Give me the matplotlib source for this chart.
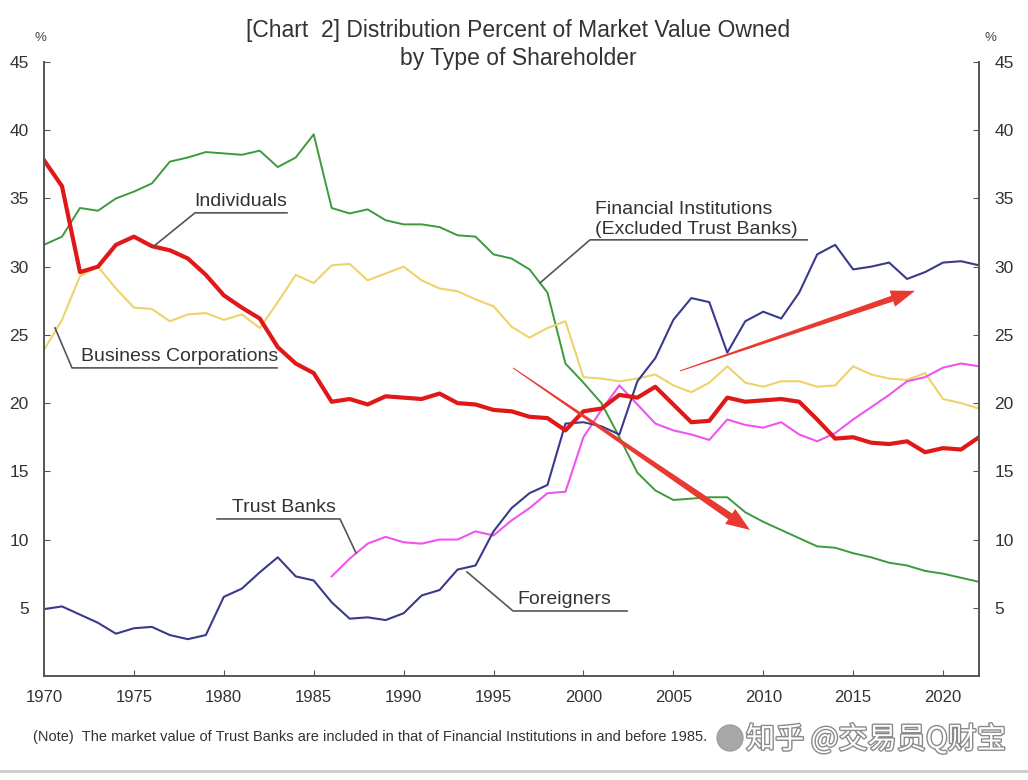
import numpy as np
import matplotlib.pyplot as plt
import matplotlib.patheffects as pe
from matplotlib.patches import Polygon, Ellipse

years = np.arange(1970, 2023)

financial = [31.6, 32.2, 34.3, 34.1, 35.0, 35.5, 36.1, 37.7, 38.0, 38.4,
             38.3, 38.2, 38.5, 37.3, 38.0, 39.7, 34.3, 33.9, 34.2, 33.4,
             33.1, 33.1, 32.9, 32.3, 32.2, 30.9, 30.6, 29.8, 28.1, 22.9,
             21.5, 20.0, 17.5, 14.9, 13.6, 12.9, 13.0, 13.1, 13.1, 12.0,
             11.3, 10.7, 10.1, 9.5, 9.4, 9.0, 8.7, 8.3, 8.1, 7.7,
             7.5, 7.2, 6.9]
individuals = [37.8, 35.9, 29.6, 30.0, 31.6, 32.2, 31.5, 31.2, 30.6, 29.4,
               27.9, 27.0, 26.2, 24.1, 22.9, 22.2, 20.1, 20.3, 19.9, 20.5,
               20.4, 20.3, 20.7, 20.0, 19.9, 19.5, 19.4, 19.0, 18.9, 18.0,
               19.4, 19.6, 20.6, 20.4, 21.2, 19.9, 18.6, 18.7, 20.4, 20.1,
               20.2, 20.3, 20.1, 18.8, 17.4, 17.5, 17.1, 17.0, 17.2, 16.4,
               16.7, 16.6, 17.5]
business = [23.9, 26.1, 29.3, 30.0, 28.4, 27.0, 26.9, 26.0, 26.5, 26.6,
            26.1, 26.5, 25.5, 27.4, 29.4, 28.8, 30.1, 30.2, 29.0, 29.5,
            30.0, 29.0, 28.4, 28.2, 27.6, 27.1, 25.6, 24.8, 25.5, 26.0,
            21.9, 21.8, 21.6, 21.8, 22.1, 21.3, 20.8, 21.5, 22.7, 21.5,
            21.2, 21.6, 21.6, 21.2, 21.3, 22.7, 22.1, 21.8, 21.7, 22.2,
            20.3, 20.0, 19.6]
foreigners = [4.9, 5.1, 4.5, 3.9, 3.1, 3.5, 3.6, 3.0, 2.7, 3.0,
              5.8, 6.4, 7.6, 8.7, 7.3, 7.0, 5.4, 4.2, 4.3, 4.1,
              4.6, 5.9, 6.3, 7.8, 8.1, 10.6, 12.3, 13.4, 14.0, 18.5,
              18.6, 18.3, 17.7, 21.6, 23.3, 26.1, 27.7, 27.4, 23.7, 26.0,
              26.7, 26.2, 28.1, 30.9, 31.6, 29.8, 30.0, 30.3, 29.1, 29.6,
              30.3, 30.4, 30.1]
trust_years = np.arange(1986, 2023)
trust = [7.3, 8.6, 9.7, 10.2, 9.8, 9.7, 10.0, 10.0, 10.6, 10.3,
         11.4, 12.3, 13.4, 13.5, 17.5, 19.5, 21.3, 19.9, 18.5, 18.0,
         17.7, 17.3, 18.8, 18.4, 18.2, 18.6, 17.7, 17.2, 17.8, 18.8,
         19.7, 20.6, 21.6, 21.9, 22.6, 22.9, 22.7]

yticks = [5, 10, 15, 20, 25, 30, 35, 40, 45]
xticks = [1970, 1975, 1980, 1985, 1990, 1995, 2000, 2005, 2010, 2015, 2020]

plt.rcParams['font.family'] = ['Liberation Sans', 'DejaVu Sans']

fig = plt.figure(figsize=(10.28, 7.8), dpi=100)
ax = fig.add_axes([44 / 1028, 104 / 780, 935 / 1028, 614 / 780])

ax.plot(years, financial, color='#3c9a3c', lw=1.4)
ax.plot(years, business, color='#ecd46a', lw=1.5)
ax.plot(trust_years, trust, color='#ee55ee', lw=1.5)
ax.plot(years, foreigners, color='#3a3a8c', lw=1.5)
ax.plot(years, individuals, color='#e01818', lw=3.0)

ax.set_xlim(1970, 2022)
ax.set_ylim(0, 45)
ax.set_xticks(xticks)
ax.set_yticks(yticks)
ax.tick_params(direction='in', length=4, color='#555555', labelsize=12.5,
               labelcolor='#333333', right=True, labelright=True)
ax.tick_params(axis='y', pad=11)
ax.tick_params(axis='x', pad=10, labelsize=12)
for s in ['left', 'right', 'bottom']:
    ax.spines[s].set_color('#555555')
    ax.spines[s].set_linewidth(1.4)
ax.spines['top'].set_visible(False)

fig.text(518 / 1028, 1 - 30 / 780, '[Chart  2] Distribution Percent of Market Value Owned',
         ha='center', va='center', fontsize=16.5, color='#333333')
fig.text(518 / 1028, 1 - 58 / 780, 'by Type of Shareholder',
         ha='center', va='center', fontsize=16.5, color='#333333')
fig.text(40 / 1028, 1 - 38 / 780, '%', ha='center', va='center', fontsize=9.5, color='#444444')
fig.text(990 / 1028, 1 - 38 / 780, '%', ha='center', va='center', fontsize=9.5, color='#444444')


def px2d(x, y):
    return 1970 + (x - 44) / 17.98, (676 - y) / 13.64


def label(text, tx, ty, line_pts):
    xs, ys = zip(*[px2d(*p) for p in line_pts])
    ax.plot(xs, ys, color='#555555', lw=1.2, clip_on=False)
    x, y = px2d(tx, ty)
    ax.text(x, y, text, ha='left', va='bottom', fontsize=14, color='#333333',
            linespacing=1.25)


label('Individuals', 194, 210, [(287, 213), (195, 213), (153, 247)])
label('Business Corporations', 81, 365, [(277, 368), (72, 368), (55, 328)])
label('Financial Institutions\n(Excluded Trust Banks)', 595, 238,
      [(807, 240), (590, 240), (540, 283)])
label('Trust Banks', 232, 516, [(217, 519), (340, 519), (356, 553)])
label('Foreigners', 517, 608, [(627, 611), (513, 611), (467, 572)])


def taper_arrow(p0, p1, w0, w1, head_w, head_len, color='#e83a30'):
    x0, y0 = p0
    x1, y1 = p1
    d = np.array([x1 - x0, y1 - y0], float)
    u = d / np.hypot(*d)
    n = np.array([-u[1], u[0]])
    base = np.array([x1, y1]) - u * head_len
    a = np.array([x0, y0])
    pts = [a + n * w0 / 2, base + n * w1 / 2, base + n * head_w / 2,
           np.array([x1, y1]), base - n * head_w / 2, base - n * w1 / 2,
           a - n * w0 / 2]
    pts = [px2d(*p) for p in pts]
    ax.add_patch(Polygon(pts, closed=True, color=color, lw=0, clip_on=False, zorder=5))


taper_arrow((680, 371), (915, 291), 1.0, 6, 17, 24)
taper_arrow((513, 368), (750, 530), 1.0, 7, 18, 24)

fig.text(33 / 1028, 1 - 737 / 780,
         '(Note)  The market value of Trust Banks are included in that of Financial Institutions in and before 1985.',
         ha='left', va='center', fontsize=10.5, color='#333333')
fig.add_artist(Ellipse((730 / 1028, 1 - 738 / 780), 26 / 1028, 26 / 780,
                       transform=fig.transFigure, color='#999999', alpha=0.85))
fig.text(746 / 1028, 1 - 740 / 780, '知乎 @交易员Q财宝', ha='left', va='center',
         fontsize=21, color='white', family=['Noto Sans CJK SC', 'DejaVu Sans'],
         path_effects=[pe.withStroke(linewidth=2, foreground='#8a8a8a')])
fig.add_artist(plt.Line2D([0, 1], [1 - 771 / 780, 1 - 771 / 780], color='#cccccc', lw=2))

fig.savefig('out.png', dpi=100)
